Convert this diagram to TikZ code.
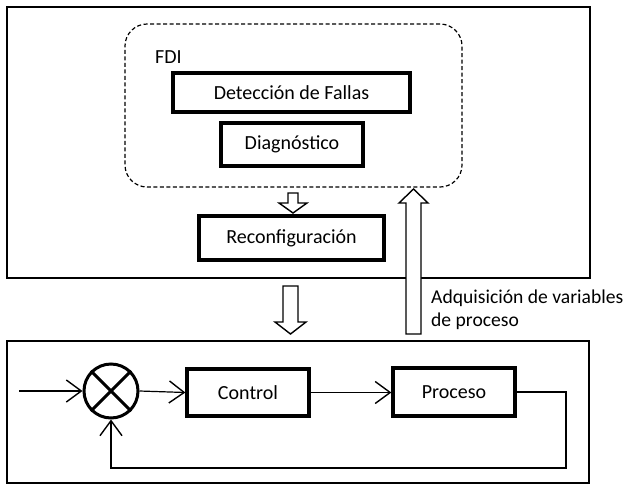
\documentclass[tikz,border=0pt]{standalone}
\usepackage{fontspec}
\setmainfont{Carlito}
\usetikzlibrary{arrows.meta,shapes.geometric}
\begin{document}
\begin{tikzpicture}[x=1pt,y=-1pt,
  every node/.style={font=\fontsize{20}{23}\selectfont},
  blk/.style={draw,line width=3.3pt,inner sep=0pt},
  frame/.style={draw,line width=1.5pt,inner sep=0pt},
  hollow/.style={draw,line width=1.4pt,fill=white,line join=miter},
  arr/.style={line width=1.2pt,-{Straight Barb[length=15pt,width=22pt,line width=1.4pt]}},
  ln/.style={line width=1.2pt}]
\useasboundingbox (0,0) rectangle (626,485);
\fill[white] (0,0) rectangle (626,485);
% frames
\node[frame,minimum width=583pt,minimum height=271pt] (top) at (298.5,142.5) {};
\node[frame,minimum width=582pt,minimum height=142pt] (bot) at (298,412) {};
% FDI dashed group
\node[draw,line width=1.2pt,dash pattern=on 4pt off 2.5pt,rounded corners=22pt,
      minimum width=337pt,minimum height=163pt,inner sep=0pt] (fdi) at (293.5,105.5) {};
\node[anchor=base west,inner sep=0pt] (fdilab) at (155,63) {FDI};
% blocks
\node[blk,minimum width=237pt,minimum height=39pt] (det) at (291.5,92.5) {Detección de Fallas};
\node[blk,minimum width=142pt,minimum height=43pt] (diag) at (292,144.5) {Diagnóstico};
\node[blk,minimum width=185pt,minimum height=44pt] (rec) at (291.5,238) {Reconfiguración};
\node[blk,minimum width=122pt,minimum height=47pt] (ctl) at (248,392.5) {Control};
\node[blk,minimum width=122pt,minimum height=48pt] (pro) at (454,392) {Proceso};
\node[circle,draw,line width=3pt,minimum size=54pt,inner sep=0pt] (sum) at (111,391) {};
\draw[line width=3pt] (sum.north east) -- (sum.south west);
\draw[line width=3pt] (sum.north west) -- (sum.south east);
% hollow arrows
\draw[hollow] (288,193) -- (298,193) -- (298,203) -- (307,203) -- (293,213) -- (279,203) -- (288,203) -- cycle;
\draw[hollow] (283,286) -- (298,286) -- (298,322) -- (306,322) -- (290.5,334) -- (275,322) -- (283,322) -- cycle;
\draw[hollow] (406,334) -- (421,334) -- (421,203) -- (428,203) -- (413.5,189) -- (399,203) -- (406,203) -- cycle;
% label
\node[anchor=base west,inner sep=0pt,font=\fontsize{19.6}{23}\selectfont] (lab1) at (431,303) {Adquisición de variables};
\node[anchor=base west,inner sep=0pt,font=\fontsize{19.6}{23}\selectfont] (lab2) at (431,326) {de proceso};
% loop
\coordinate (in) at (19,391);
\coordinate (fbR) at (566,468);
\draw[arr] (in) -- (sum.west);
\draw[arr] (sum.east) -- (ctl.west);
\draw[arr] (ctl.east) -- (pro.west |- ctl.east);
\draw[arr] (pro.east) -| (fbR) -| (sum.south);
\end{tikzpicture}
\end{document}
